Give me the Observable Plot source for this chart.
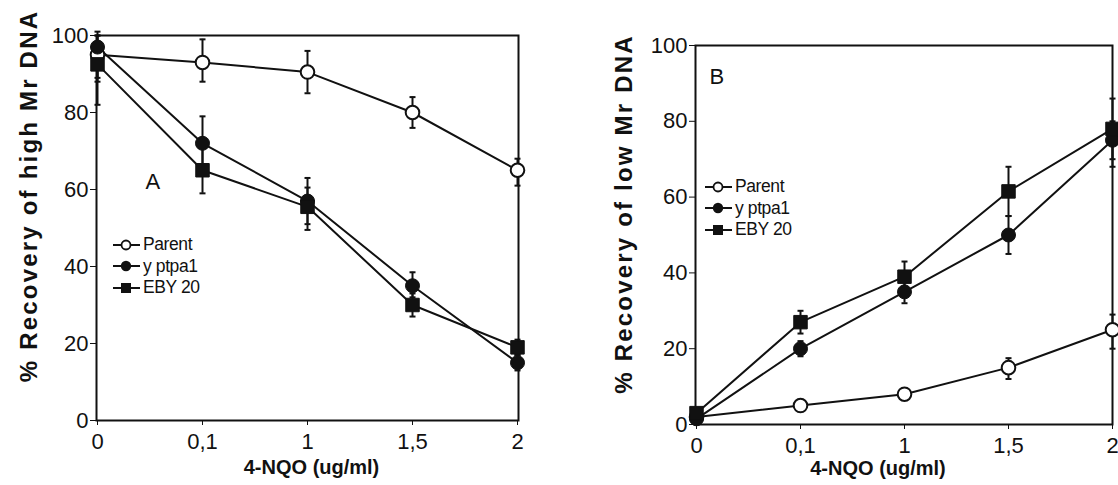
<!DOCTYPE html>
<html><head><meta charset="utf-8">
<script src="https://cdn.jsdelivr.net/npm/d3@7"></script>
<script src="https://cdn.jsdelivr.net/npm/@observablehq/plot@0.6"></script>
<style>
body{margin:0;background:#fff;}
#wrap{position:relative;width:1118px;height:485px;overflow:hidden;font-family:"Liberation Sans",Arial,sans-serif;background:#fff;}
.panel{position:absolute;top:0;}
.legend{position:absolute;font-size:17.5px;color:#111;letter-spacing:-0.4px;}
.legend .row{display:flex;align-items:center;height:21.5px;}
.legend svg{margin-right:3px;}
</style></head><body><div id="wrap"></div>
<script>
// ---- data ----
const doses = ["0", "0,1", "1", "1,5", "2"];
const seriesNames = ["Parent", "y ptpa1", "EBY 20"];

// Panel A: % recovery of high Mr DNA
const highParent   = [95, 93, 90.5, 80, 65];
const highParentLo = [88, 88, 85, 76, 61];
const highParentHi = [101, 99, 96, 84, 68];
const highYptpa1   = [97, 72, 57, 35, 15];
const highYptpa1Lo = [89, 65, 51, 32, 13];
const highYptpa1Hi = [100, 79, 63, 38.5, 17];
const highEBY20    = [92.5, 65, 55.5, 30, 19];
const highEBY20Lo  = [82, 59, 49.5, 27, 17];
const highEBY20Hi  = [100, 71, 60.5, 33, 21];

// Panel B: % recovery of low Mr DNA
const lowParent   = [2, 5, 8, 15, 25];
const lowParentLo = [1, 4, 7, 12, 20];
const lowParentHi = [3, 6, 9, 17.5, 29];
const lowYptpa1   = [1.5, 20, 35, 50, 75];
const lowYptpa1Lo = [0.5, 18, 32, 45, 68];
const lowYptpa1Hi = [2.5, 22, 38, 55, 80];
const lowEBY20    = [3, 27, 39, 61.5, 78];
const lowEBY20Lo  = [2, 24, 36, 55, 70];
const lowEBY20Hi  = [4, 30, 43, 68, 86];

const yTicks = [0, 20, 40, 60, 80, 100];

function rowsFor(list) {
  const out = [];
  list.forEach(([name, v, lo, hi]) => {
    doses.forEach((d, i) => out.push({dose: d, series: name, value: v[i], lo: lo[i], hi: hi[i]}));
  });
  return out;
}
const rowsA = rowsFor([
  [seriesNames[0], highParent, highParentLo, highParentHi],
  [seriesNames[1], highYptpa1, highYptpa1Lo, highYptpa1Hi],
  [seriesNames[2], highEBY20, highEBY20Lo, highEBY20Hi]
]);
const rowsB = rowsFor([
  [seriesNames[0], lowParent, lowParentLo, lowParentHi],
  [seriesNames[1], lowYptpa1, lowYptpa1Lo, lowYptpa1Hi],
  [seriesNames[2], lowEBY20, lowEBY20Lo, lowEBY20Hi]
]);

const capSymbol = {draw(ctx, size) { const r = Math.sqrt(size / Math.PI); ctx.moveTo(-r, 0); ctx.lineTo(r, 0); }};

function panel(rows, opts) {
  const svg = Plot.plot({
    width: opts.width, height: 485,
    marginLeft: opts.ml, marginRight: opts.mr, marginTop: opts.mt, marginBottom: opts.mb,
    style: {fontFamily: "'Liberation Sans', Arial, sans-serif", fontSize: "22px", color: "#111", background: "white"},
    x: {type: "point", domain: doses, padding: 0, tickSize: 5, tickPadding: 8, label: null},
    y: {domain: [0, 100], ticks: yTicks, tickSize: 6, tickPadding: 2, label: null},
    marks: [
      Plot.frame({stroke: "#111", strokeWidth: 2}),
      Plot.ruleX(rows, {x: "dose", y1: "lo", y2: "hi", stroke: "#111", strokeWidth: 2}),
      Plot.dot(rows, {x: "dose", y: "lo", symbol: capSymbol, r: 3, stroke: "#111", strokeWidth: 2}),
      Plot.dot(rows, {x: "dose", y: "hi", symbol: capSymbol, r: 3, stroke: "#111", strokeWidth: 2}),
      Plot.line(rows, {x: "dose", y: "value", z: "series", stroke: "#111", strokeWidth: 2}),
      Plot.dot(rows.filter(d => d.series === seriesNames[0]), {x: "dose", y: "value", r: 6.8, fill: "white", stroke: "#111", strokeWidth: 2}),
      Plot.dot(rows.filter(d => d.series === seriesNames[1]), {x: "dose", y: "value", r: 7, fill: "#111", stroke: "#111", strokeWidth: 1}),
      Plot.dot(rows.filter(d => d.series === seriesNames[2]), {x: "dose", y: "value", symbol: "square", r: 7.6, fill: "#111", stroke: "#111", strokeWidth: 1}),
      Plot.text([opts.letter], {frameAnchor: "top-left", dx: opts.letterDx, dy: opts.letterDy, fontSize: 22, fill: "#111"}),
      Plot.text([opts.ytitle], {frameAnchor: "left", textAnchor: "middle", lineAnchor: "middle", rotate: -90, dx: opts.ytDx, dy: opts.ytDy, fontSize: 24, fontWeight: "bold", fill: "#111"}),
      Plot.text(["4-NQO (ug/ml)"], {frameAnchor: "bottom", textAnchor: "middle", lineAnchor: "middle", dx: opts.xtDx, dy: opts.xtDy, fontSize: 20, fontWeight: "bold", fill: "#111"})
    ]
  });
  svg.querySelectorAll("text").forEach(t => {
    if (t.textContent === opts.ytitle) t.setAttribute("letter-spacing", "2.2");
  });
  return svg;
}

function legend(left, top) {
  const div = document.createElement("div");
  div.className = "legend";
  div.style.left = left + "px";
  div.style.top = top + "px";
  const marks = [
    '<circle cx="13" cy="7" r="4.5" fill="white" stroke="#111" stroke-width="1.8"/>',
    '<circle cx="13" cy="7" r="5.2" fill="#111"/>',
    '<rect x="8" y="2" width="10" height="10" fill="#111"/>'
  ];
  seriesNames.forEach((n, i) => {
    const row = document.createElement("div");
    row.className = "row";
    row.innerHTML = `<svg width="27" height="14"><line x1="0" y1="7" x2="27" y2="7" stroke="#111" stroke-width="2"/>${marks[i]}</svg><span>${n}</span>`;
    div.appendChild(row);
  });
  return div;
}

const wrap = document.getElementById("wrap");
const a = panel(rowsA, {width: 560, ml: 96, mr: 42, mt: 35, mb: 65, letter: "A", letterDx: 49, letterDy: 138,
  ytitle: "% Recovery of high Mr DNA", ytDx: -67, ytDy: -32, xtDx: 4, xtDy: 47});
const b = panel(rowsB, {width: 558, ml: 135, mr: 6, mt: 45, mb: 61, letter: "B", letterDx: 14, letterDy: 23,
  ytitle: "% Recovery of low Mr DNA", ytDx: -71, ytDy: -21, xtDx: -26, xtDy: 44});
const pa = document.createElement("div"); pa.className = "panel"; pa.style.left = "0px"; pa.appendChild(a);
const pb = document.createElement("div"); pb.className = "panel"; pb.style.left = "560px"; pb.appendChild(b);
wrap.appendChild(pa); wrap.appendChild(pb);
wrap.appendChild(legend(113, 234));
wrap.appendChild(legend(705, 176));
</script>
</body></html>
